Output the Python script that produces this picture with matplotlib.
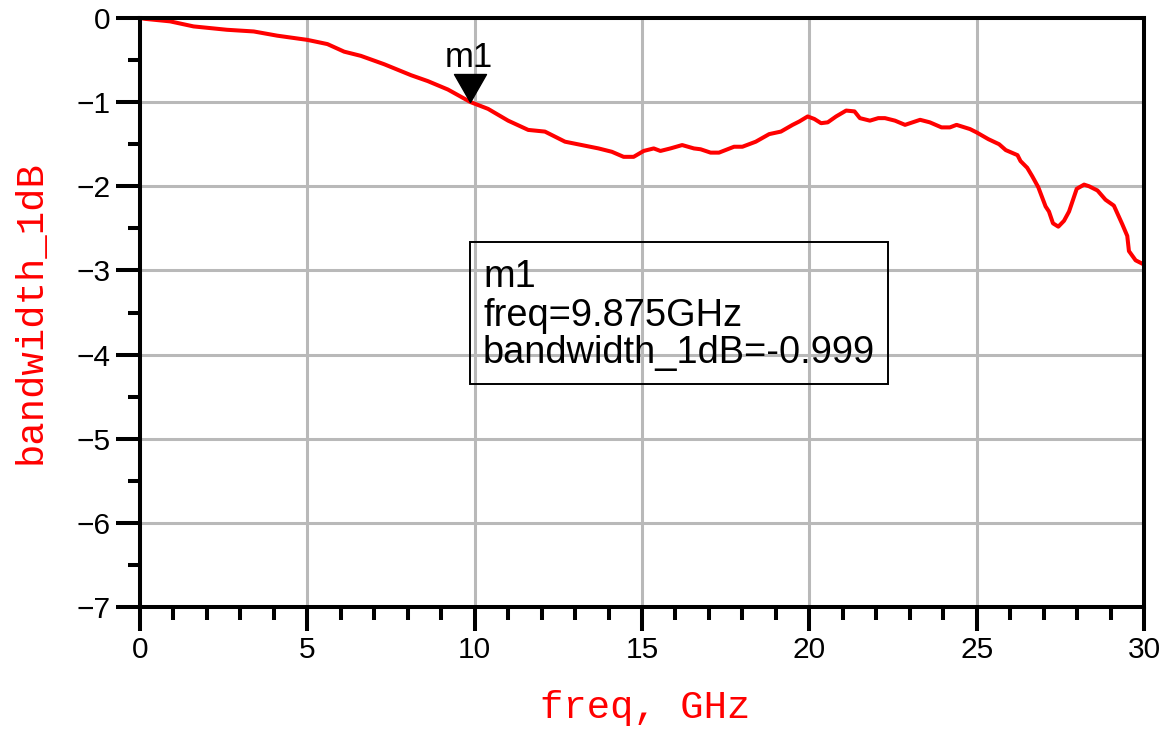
import matplotlib
matplotlib.use("Agg")
import matplotlib.pyplot as plt
from matplotlib.patches import Rectangle
from matplotlib.path import Path

# ---- data ----
freq = [0, 0.15, 0.9, 1.6, 2.6, 3.4, 4.1, 5.0, 5.6, 6.1, 6.6, 7.3, 8.1, 8.6, 9.2,
        9.875, 10.4, 11.0, 11.6, 12.1, 12.7, 13.7, 14.1, 14.45, 14.75, 15.05, 15.35,
        15.55, 15.85, 16.2, 16.55, 16.75, 17.05, 17.3, 17.75, 18.0, 18.4, 18.8, 19.15,
        19.5, 19.7, 19.95, 20.15, 20.35, 20.55, 20.8, 21.1, 21.35, 21.51, 21.81, 22.06,
        22.26, 22.56, 22.86, 23.31, 23.6, 23.95, 24.2, 24.4, 24.8, 25.0, 25.35, 25.67,
        25.87, 26.22, 26.31, 26.51, 26.66, 26.84, 27.06, 27.16, 27.28, 27.44, 27.61,
        27.76, 27.99, 28.21, 28.36, 28.61, 28.85, 29.1, 29.35, 29.5, 29.55, 29.75,
        29.95, 30.0]
bandwidth_1dB = [0, -0.01, -0.04, -0.10, -0.14, -0.16, -0.21, -0.26, -0.31, -0.40,
                 -0.45, -0.55, -0.68, -0.75, -0.85, -0.999, -1.08, -1.22, -1.33, -1.35,
                 -1.47, -1.55, -1.59, -1.65, -1.65, -1.58, -1.55, -1.58, -1.55, -1.51,
                 -1.55, -1.56, -1.60, -1.60, -1.53, -1.53, -1.47, -1.38, -1.35, -1.27,
                 -1.23, -1.17, -1.20, -1.25, -1.24, -1.17, -1.10, -1.11, -1.19, -1.22,
                 -1.19, -1.19, -1.22, -1.27, -1.21, -1.24, -1.30, -1.30, -1.27, -1.32,
                 -1.36, -1.44, -1.50, -1.57, -1.63, -1.70, -1.78, -1.88, -2.01, -2.24,
                 -2.30, -2.44, -2.48, -2.41, -2.30, -2.03, -1.98, -2.00, -2.05, -2.16,
                 -2.23, -2.45, -2.59, -2.77, -2.88, -2.92, -2.93]

marker_name = "m1"
marker_freq = 9.875
marker_value = -0.999

xticks = [0, 5, 10, 15, 20, 25, 30]
xtick_labels = ["0", "5", "10", "15", "20", "25", "30"]
yticks = [0, -1, -2, -3, -4, -5, -6, -7]
ytick_labels = ["0", "\u22121", "\u22122", "\u22123", "\u22124", "\u22125", "\u22126", "\u22127"]

# ---- figure ----
fig = plt.figure(figsize=(11.69, 7.31), dpi=100)
ax = fig.add_axes([140 / 1169, 1 - 607 / 731, 1004 / 1169, 589 / 731])

ax.set_xlim(0, 30)
ax.set_ylim(-7, 0)

grid_color = "#b9b9b9"
ax.set_xticks(xticks)
ax.set_xticklabels(xtick_labels)
ax.set_yticks(yticks)
ax.set_yticklabels(ytick_labels)
ax.set_xticks(range(0, 31), minor=True)
ax.set_yticks([v - 0.5 for v in range(0, -7, -1)], minor=True)
ax.grid(True, which="major", color=grid_color, linewidth=2.2, zorder=0)
ax.set_axisbelow(True)

tick_font = ["Liberation Sans", "DejaVu Sans"]
ax.tick_params(which="major", direction="out", length=17, width=2.9, color="black",
               labelsize=21.5, pad=4)
ax.tick_params(which="minor", direction="out", length=9, width=2.9, color="black")
for lab in ax.get_xticklabels() + ax.get_yticklabels():
    lab.set_family(tick_font)

for sp in ax.spines.values():
    sp.set_linewidth(2.9)
    sp.set_color("black")
    sp.set_zorder(5)

ax.plot(freq, bandwidth_1dB, color="#ff0000", linewidth=2.9, zorder=3)

# marker triangle (tip at the marker point)
tri = Path([(-16, 28), (16, 28), (0, 0), (-16, 28)],
           [Path.MOVETO, Path.LINETO, Path.LINETO, Path.CLOSEPOLY])
ax.plot([marker_freq], [marker_value], marker=tri, markersize=40.3, color="black",
        linestyle="none", zorder=6, clip_on=False)
ax.annotate(marker_name, xy=(marker_freq, marker_value), xytext=(-1, 25.5),
            textcoords="offset points", ha="center", va="baseline",
            fontsize=25, family=["Liberation Sans", "DejaVu Sans"], color="black",
            zorder=6)

# marker readout box
box = Rectangle((330 / 1004, 1 - 366 / 589), 418 / 1004, 142 / 589,
                transform=ax.transAxes, facecolor="none", edgecolor="black",
                linewidth=1.4, zorder=6)
ax.add_patch(box)
box_lines = [marker_name,
             "freq=%.3fGHz" % marker_freq,
             "bandwidth_1dB=%.3f" % marker_value]
box_baselines = [286.7, 325.7, 363.0]
for txt, yb in zip(box_lines, box_baselines):
    ax.text(343 / 1004, 1 - (yb - 18) / 589, txt, transform=ax.transAxes,
            ha="left", va="baseline", fontsize=27.4,
            family=["Liberation Sans", "DejaVu Sans"], color="black", zorder=7)

# axis labels
label_font = ["Liberation Mono", "DejaVu Sans Mono"]
ax.set_xlabel("freq, GHz", color="#ff0000", fontsize=28, family=label_font)
ax.set_ylabel("bandwidth_1dB", color="#ff0000", fontsize=28, family=label_font)
ax.xaxis.label.set_va("center")
ax.yaxis.label.set_va("center")
ax.xaxis.set_label_coords(0.503, (607 - 708) / 589)
ax.yaxis.set_label_coords((31 - 140) / 1004, 0.5)

fig.savefig("out.png", dpi=100)
